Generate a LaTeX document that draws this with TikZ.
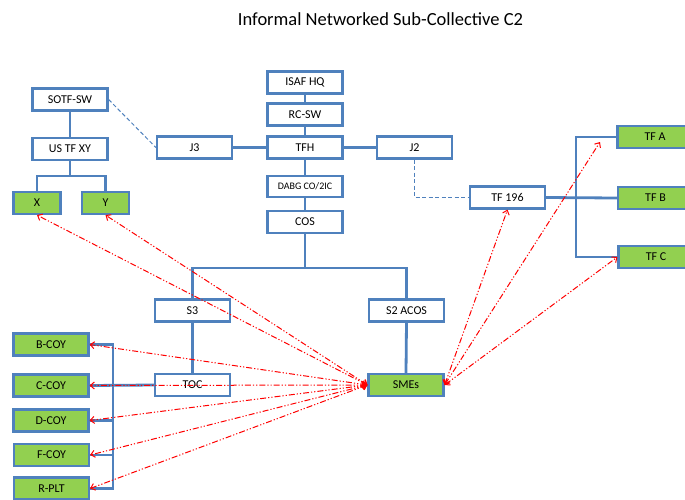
\documentclass[tikz,border=0pt]{standalone}
\usepackage{fontspec}
\setmainfont{Carlito}
\usetikzlibrary{arrows.meta,calc,backgrounds}
\definecolor{orgblue}{HTML}{4F81BD}
\definecolor{unitgreen}{HTML}{92D050}
\tikzset{
  unit/.style={draw=orgblue, line width=2.2pt, fill=white, minimum width=75pt,
    minimum height=22pt, inner sep=0pt, font=\fontsize{12}{14}\selectfont},
  gunit/.style={unit, fill=unitgreen},
  small/.style={minimum width=47pt},
  link/.style={draw=orgblue, line width=2.8pt},
  infolink/.style={draw=orgblue, line width=1pt, dash pattern=on 4pt off 2.5pt},
  netlink/.style={draw=red, line width=1pt,
    dash pattern=on 6pt off 2pt on 1.2pt off 2pt on 1.2pt off 2pt,
    {Straight Barb[length=4pt,width=7pt]}-{Straight Barb[length=4pt,width=7pt]}}
}
\begin{document}
\begin{tikzpicture}[x=1pt,y=-1pt]
\useasboundingbox (0,0) rectangle (685,499);

\node[font=\fontsize{18.5}{22}\selectfont] (title) at (380.5,19) {Informal Networked Sub-Collective C2};

% command chain
\node[unit] (isaf) at (305,82.5) {ISAF HQ};
\node[unit] (rcsw) at (305,114.5) {RC-SW};
\node[unit] (tfh) at (305,147.5) {TFH};
\node[unit, minimum height=21pt, font=\fontsize{10}{12}\selectfont] (dabg) at (305,186.5) {DABG CO/2IC};
\node[unit] (cos) at (305,222) {COS};
\node[unit] (j3) at (194.5,147.5) {J3};
\node[unit] (j2) at (414.5,147.5) {J2};

% left-hand task force
\node[unit] (sotf) at (70,99.5) {SOTF-SW};
\node[unit] (ustf) at (70,149) {US TF XY};
\node[gunit, small] (x) at (37,203) {X};
\node[gunit, small] (y) at (105.5,203) {Y};

% right-hand task force
\node[unit] (tf196) at (507.5,197.5) {TF 196};
\node[gunit] (tfa) at (655,137) {TF A};
\node[gunit] (tfb) at (655.5,198) {TF B};
\node[gunit] (tfc) at (656,257) {TF C};

% staff and sub-units
\node[unit] (s3) at (192.5,310.5) {S3};
\node[unit] (s2) at (406.5,310.5) {S2 ACOS};
\node[unit] (toc) at (192.5,385) {TOC};
\node[gunit] (sme) at (406,385) {SMEs};
\node[gunit] (bcoy) at (51,344.5) {B-COY};
\node[gunit] (ccoy) at (51,385.5) {C-COY};
\node[gunit] (dcoy) at (51,420.5) {D-COY};
\node[gunit] (fcoy) at (51.5,455) {F-COY};
\node[gunit] (rplt) at (51.5,488.5) {R-PLT};

\coordinate (xyj) at ($(ustf.south)!0.5!(ustf.south |- x.north)$);
\coordinate (sj) at (305,268);
\coordinate (tfbus) at (576,0);
\coordinate (coybus) at (113,0);
\coordinate (tfatip) at (600,142);

% formal structure, behind the boxes
\begin{scope}[on background layer]
\path[link] (isaf.south) -- (rcsw.north);
\path[link] (rcsw.south) -- (tfh.north);
\path[link] (tfh.south) -- (dabg.north);
\path[link] (dabg.south) -- (cos.north);
\path[link] (j3.east) -- (tfh.west);
\path[link] (tfh.east) -- (j2.west);
\path[link] (sotf.south) -- (ustf.north);
\path[link] (ustf.south) -- (xyj);
\path[link] (x.north) |- (xyj) -| (y.north);
\path[link] (cos.south) -- (sj);
\path[link] (s3.north) |- (sj) -| (s2.north);
\path[link] (s3.south) -- (toc.north);
\path[link] (s2.south) -- (sme.north);
\path[link] (tf196.east) -- (tfb.west);
\path[link] (tfa.west) -- (tfa.west -| tfbus) -- (tfc.west -| tfbus) -- (tfc.west);
\path[link] (bcoy.east) -- (bcoy.east -| coybus) -- (rplt.east -| coybus) -- (rplt.east);
\path[link] (dcoy.east) -- (dcoy.east -| coybus);
\path[link] (fcoy.east) -- (fcoy.east -| coybus);
\path[link] (toc.west) -- (ccoy.east);
\path[infolink] (sotf.east) -- (j3.west);
\path[infolink] (j2.south) |- (tf196.west);
\end{scope}

% informal network links, over everything
\path[netlink] (sme.west) -- (x.south);
\path[netlink] (sme.west) -- (y.south);
\path[netlink] (sme.west) -- (bcoy.east);
\path[netlink] (sme.west) -- (ccoy.east);
\path[netlink] (sme.west) -- (dcoy.east);
\path[netlink] (sme.west) -- (fcoy.east);
\path[netlink] (sme.west) -- (rplt.east);
\path[netlink] (sme.east) -- (tf196.south);
\path[netlink] (sme.east) -- (tfatip);
\path[netlink] (sme.east) -- (tfc.west);
\end{tikzpicture}
\end{document}
